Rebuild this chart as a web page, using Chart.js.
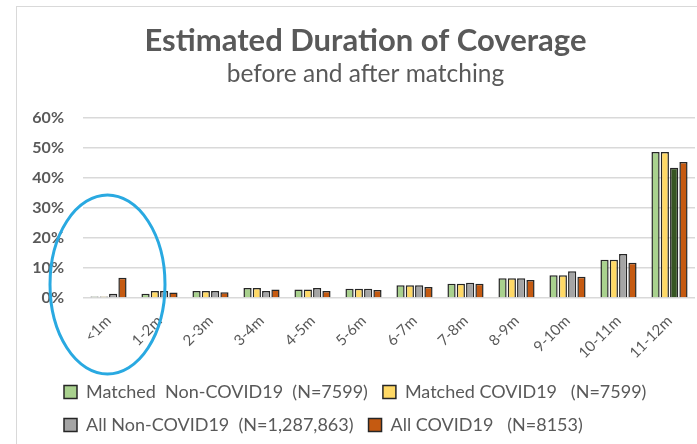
<!DOCTYPE html>
<html><head><meta charset="utf-8">
<script src="https://cdn.jsdelivr.net/npm/chart.js@4.4.1/dist/chart.umd.min.js"></script>
<style>
html,body{margin:0;padding:0;background:#fff;}
#wrap{position:relative;width:697px;height:444px;overflow:hidden;}
#frame{position:absolute;left:16px;top:6px;width:800px;height:600px;border-left:1px solid #d9d9d9;border-top:1px solid #d9d9d9;}
canvas{position:absolute;left:0;top:0;}
</style></head><body>
<div id="wrap"><div id="frame"></div><canvas id="c" width="697" height="444" style="width:697px;height:444px"></canvas></div>
<script>
const categories = ['<1m','1-2m','2-3m','3-4m','4-5m','5-6m','6-7m','7-8m','8-9m','9-10m','10-11m','11-12m'];
const matchedNonCovid = [0.5,1.4,2.3,3.3,2.8,3.1,4.2,4.7,6.6,7.6,12.7,48.6];
const matchedCovid    = [0.5,2.3,2.3,3.3,2.8,3.1,4.2,4.7,6.6,7.6,12.7,48.6];
const allNonCovid     = [1.4,2.3,2.3,2.3,3.3,3.1,4.2,5.1,6.6,8.9,14.6,43.3];
const allCovid        = [6.7,1.8,1.9,2.8,2.3,2.7,3.7,4.7,6.0,7.1,11.7,45.2];
const seriesLabels = ['Matched  Non-COVID19  (N=7599)','Matched COVID19   (N=7599)','All Non-COVID19  (N=1,287,863)','All COVID19   (N=8153)'];
const yTickValues = [0,10,20,30,40,50,60];

const TXT = '#595959';
const FONT = 'Lato';
const grayFill = categories.map((c,i)=> i===categories.length-1 ? '#375623' : '#A5A5A5');

const ellipsePlugin = {
  id:'ellipse',
  afterDraw(chart){
    const x = chart.scales.x, y = chart.scales.y, ctx = chart.ctx;
    const cx = x.getPixelForValue(0) - 1, cy = y.getPixelForValue(0) - 13.5;
    ctx.save();
    ctx.beginPath();
    ctx.ellipse(cx, cy, 57.5, 89.5, 0, 0, Math.PI*2);
    ctx.strokeStyle = '#29A9E1';
    ctx.lineWidth = 3;
    ctx.stroke();
    ctx.restore();
  }
};
const boxShift = {
  id:'boxShift',
  afterLayout(chart){
    chart.boxes.forEach(b => {
      if (b === chart.legend) { b.left += 33; }
      else if (b.position === 'top' && b.options && b.options.text !== undefined) { b.left += 10; b.right += 10; }
    });
  }
};

new Chart(document.getElementById('c'), {
  type:'bar',
  data:{
    labels: categories,
    datasets:[
      {label:seriesLabels[0], data:matchedNonCovid, backgroundColor:'#A9D18E'},
      {label:seriesLabels[1], data:matchedCovid, backgroundColor:'#FFD966'},
      {label:seriesLabels[2], data:allNonCovid, backgroundColor:grayFill},
      {label:seriesLabels[3], data:allCovid, backgroundColor:'#C55A11'}
    ]
  },
  options:{
    responsive:false,
    animation:false,
    devicePixelRatio:1,
    layout:{padding:{left:16,right:2,top:0,bottom:0}},
    datasets:{bar:{categoryPercentage:0.73,barPercentage:0.88,borderColor:'#262626',borderWidth:1.5}},
    plugins:{
      title:{display:true,text:'Estimated Duration of Coverage',color:TXT,
        font:{family:FONT,size:31,weight:'bold'},padding:{top:22,bottom:0}},
      subtitle:{display:true,text:'before and after matching',color:TXT,
        font:{family:FONT,size:24.5},padding:{top:0,bottom:29}},
      legend:{position:'bottom',align:'start',
        labels:{color:TXT,font:{family:FONT,size:18},boxWidth:13,boxHeight:13,padding:15,
          generateLabels(chart){
            const fills=['#A9D18E','#FFD966','#A5A5A5','#C55A11'];
            return chart.data.datasets.map((d,i)=>({text:d.label,fillStyle:fills[i],strokeStyle:'#262626',lineWidth:1.5,fontColor:TXT,datasetIndex:i,hidden:false}));
          }}},
      tooltip:{enabled:false}
    },
    scales:{
      x:{grid:{display:false},border:{display:false},
        ticks:{color:TXT,font:{family:FONT,size:15},minRotation:45,maxRotation:45,padding:6},
        afterFit(s){s.height=70;}},
      y:{min:0,max:60,
        afterBuildTicks(s){s.ticks=yTickValues.map(v=>({value:v}));},
        grid:{color:'#d9d9d9',lineWidth:1.5,drawTicks:false},border:{display:false},
        ticks:{color:TXT,font:{family:FONT,size:16,weight:'bold'},padding:19,callback:v=>v+'%'},
        afterFit(s){s.width=67;}}
    }
  },
  plugins:[ellipsePlugin, boxShift]
});
</script>
</body></html>
